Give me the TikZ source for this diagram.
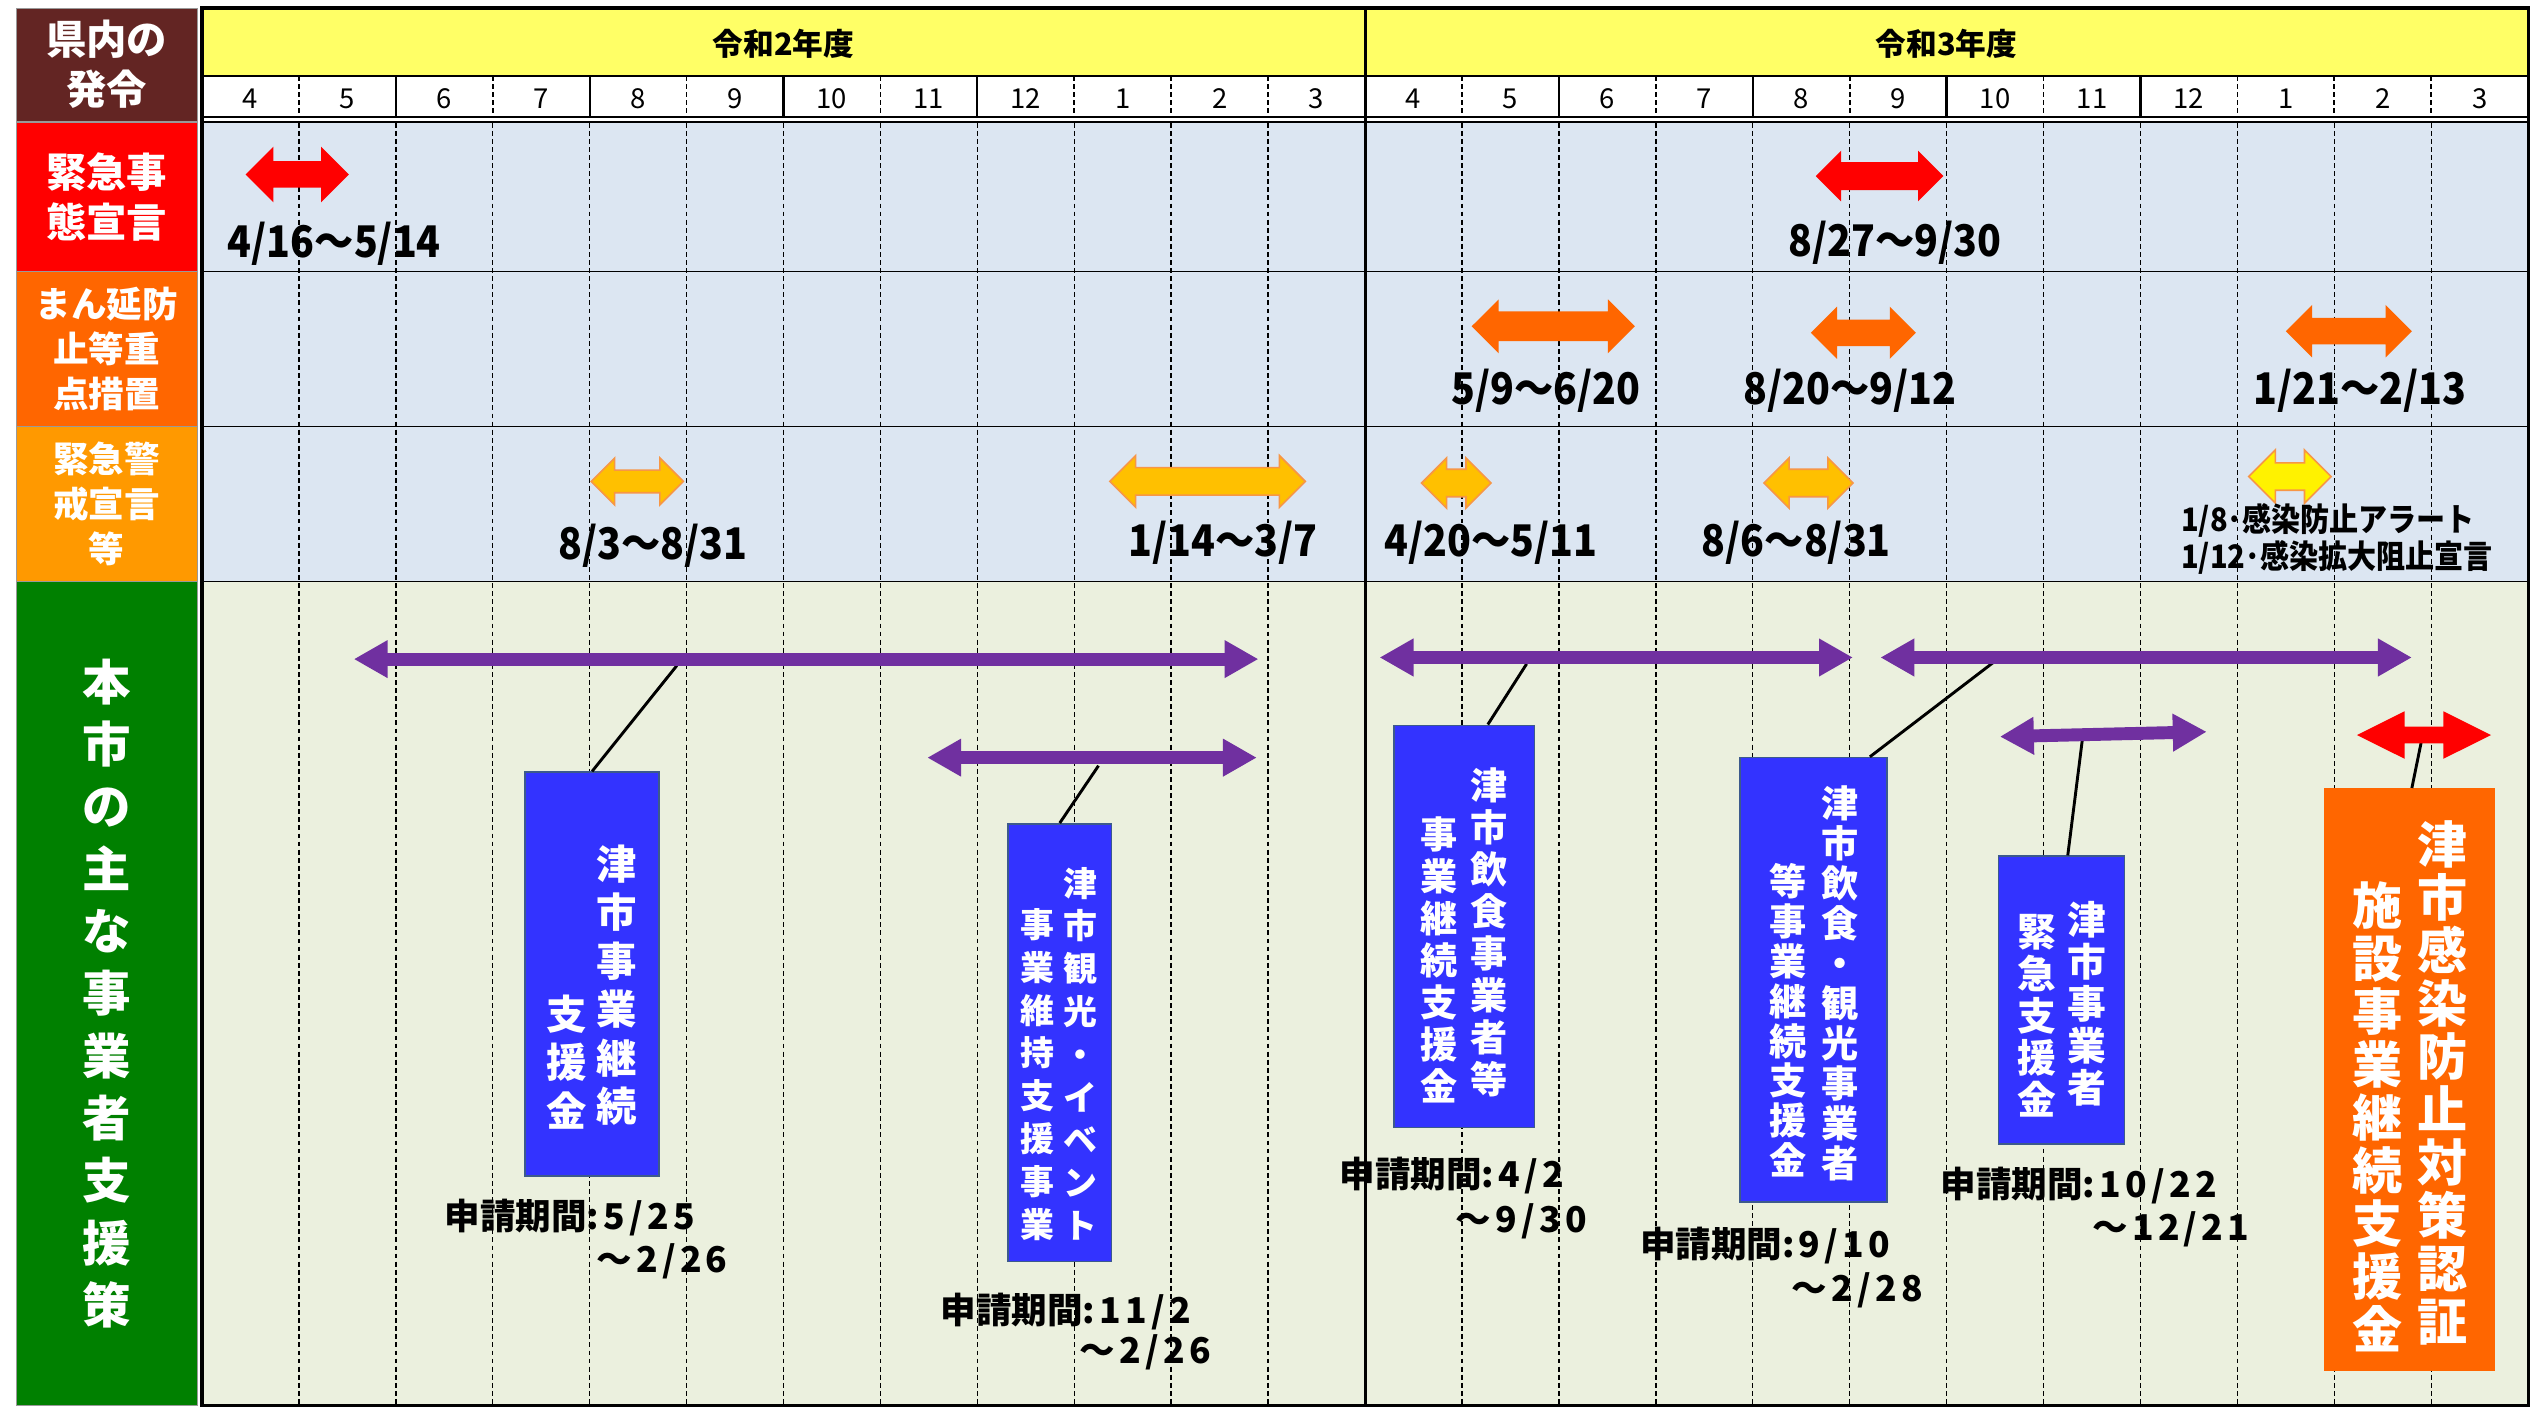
\documentclass[tikz,border=0pt]{standalone}
\usepackage{fontspec}
\setmainfont{Noto Sans CJK JP}
\newfontfamily\cond{Noto Sans CJK JP}[FakeStretch=0.9]
\usetikzlibrary{shapes.arrows,arrows.meta}
\definecolor{hdrbrown}{RGB}{99,37,35}
\definecolor{lblorange}{RGB}{255,102,0}
\definecolor{lblamber}{RGB}{255,153,0}
\definecolor{lblgreen}{RGB}{0,128,0}
\definecolor{bodyblue}{RGB}{220,230,242}
\definecolor{bodygreen}{RGB}{235,240,222}
\definecolor{hdryellow}{RGB}{255,255,102}
\definecolor{pcol}{RGB}{112,48,160}
\definecolor{boxblue}{RGB}{51,51,255}
\definecolor{boxedge}{RGB}{60,90,140}
\definecolor{amber}{RGB}{255,192,0}
\definecolor{amberedge}{RGB}{247,150,70}
\definecolor{orangearrow}{RGB}{255,102,0}
\newcommand{\fs}[2]{\fontsize{#1pt}{#2pt}\selectfont}
\newcommand{\wnum}[1]{{\addfontfeature{LetterSpace=12}#1}}
\begin{document}
\begin{tikzpicture}[x=1pt,y=-1pt,
  labcell/.style={minimum width=112pt, inner sep=0pt, text=white, align=center, draw=black!40, line width=0.6pt},
  blockarrow/.style={double arrow, inner xsep=0pt, minimum width=0pt, double arrow head indent=0pt, draw=none},
  amberarrow/.style={blockarrow, fill=amber, draw=amberedge, line width=1pt},
  datelbl/.style={font=\cond\bfseries\fs{27}{30}, inner sep=0pt},
  smalllbl/.style={font=\cond\bfseries\fs{20}{22}, inner sep=0pt, anchor=west},
  monthlbl/.style={font=\fs{17}{20}, inner sep=0pt},
  yearlbl/.style={font=\bfseries\fs{19}{22}, inner sep=0pt},
  parrow/.style={draw=pcol, line width=8pt, arrows={Triangle[length=21pt,width=22pt]-Triangle[length=21pt,width=22pt]}},
  leader/.style={draw=black, line width=1.8pt},
  bluebox/.style={fill=boxblue, draw=boxedge, line width=1pt, inner sep=0pt},
  vcol/.style={anchor=south, inner sep=0pt, align=center, text=white},
  apptext/.style={anchor=west, inner sep=0pt, font=\bfseries\fs{22}{24}},
  bodydash/.style={draw=black, line width=0.9pt, dash pattern=on 3pt off 2pt},
]
\useasboundingbox (0,0) rectangle (1568,872);
\fill[white] (0,0) rectangle (1568,872);

% backgrounds
\fill[hdryellow] (125,5) rectangle (1565,47);
\fill[white] (125,47) rectangle (1565,73);
\fill[bodyblue] (125,76) rectangle (1565,360);
\fill[bodygreen] (125,360) rectangle (1565,870);

% left label column
\node[labcell, fill=hdrbrown, minimum height=70pt, font=\bfseries\fs{25}{31}] (hdr) at (66,40) {県内の\\発令};
\node[labcell, fill=red, minimum height=92pt, font=\bfseries\fs{25}{31}] (c1) at (66,122) {緊急事\\態宣言};
\node[labcell, fill=lblorange, minimum height=96pt, font=\bfseries\fs{22}{28}] (c2) at (66,216) {まん延防\\止等重\\点措置};
\node[labcell, fill=lblamber, minimum height=96pt, font=\bfseries\fs{22}{28}] (c3) at (66,312) {緊急警\\戒宣言\\等};
\node[labcell, fill=lblgreen, minimum height=510pt, font=\bfseries\fs{30}{38.6}] (c4) at (66,615) {本\\市\\の\\主\\な\\事\\業\\者\\支\\援\\策};

% body vertical dashed lines
\foreach \x in {185,245,305,365,425,485,545,605,665,725,785,905,965,1025,1085,1145,1205,1265,1325,1385,1445,1505}
  \draw[bodydash] (\x,76) -- (\x,870);
% month row lines
\foreach \x in {245,365,485,605,965,1085,1205,1325}
  \draw[line width=1.4pt] (\x,47) -- (\x,73);
\foreach \x in {185,305,425,545,665,725,785,905,1025,1145,1265,1385,1445,1505}
  \draw[line width=1.1pt, dash pattern=on 3pt off 2pt] (\x,47) -- (\x,73);

% horizontal lines
\draw[line width=1.2pt] (125,47) -- (1565,47);
\draw[line width=1.2pt] (125,72.5) -- (1565,72.5);
\draw[line width=1.2pt] (125,75.8) -- (1565,75.8);
\foreach \y in {168,264,360}
  \draw[line width=0.9pt] (125,\y) -- (1565,\y);
\draw[line width=1.8pt] (845,5) -- (845,870);
\draw[line width=2pt] (125,5) rectangle (1565,870);

% year and month labels
\node[yearlbl] (y2) at (485,27) {令和2年度};
\node[yearlbl] (y3) at (1205,27) {令和3年度};
\foreach \m [count=\i from 0] in {4,5,6,7,8,9,10,11,12,1,2,3,4,5,6,7,8,9,10,11,12,1,2,3}
  \node[monthlbl] (mon\i) at ({155+60*\i},61) {\m};

% row 1: state of emergency
\node[blockarrow, fill=red, inner ysep=8pt, double arrow head extend=9pt, minimum height=64pt] (r1) at (184,108) {};
\node[datelbl] (d1) at (207,151) {4/16～5/14};
\node[blockarrow, fill=red, inner ysep=8.5pt, double arrow head extend=7pt, minimum height=79pt] (r2) at (1163.5,109) {};
\node[datelbl] (d2) at (1173,150) {8/27～9/30};

% row 2: priority measures
\node[blockarrow, fill=orangearrow, inner ysep=9pt, double arrow head extend=7.5pt, minimum height=101pt] (o1) at (961.5,202) {};
\node[datelbl] (d3) at (957,242) {5/9～6/20};
\node[blockarrow, fill=orangearrow, inner ysep=8pt, double arrow head extend=8pt, minimum height=65pt] (o2) at (1153.5,206) {};
\node[datelbl] (d4) at (1145,242) {8/20～9/12};
\node[blockarrow, fill=orangearrow, inner ysep=8pt, double arrow head extend=8pt, minimum height=78pt] (o3) at (1454,205) {};
\node[datelbl] (d5) at (1461,242) {1/21～2/13};

% row 3: alerts
\node[amberarrow, inner ysep=6.5pt, double arrow head extend=7.5pt, minimum height=57pt] (a1) at (394.5,298) {};
\node[datelbl] (d6) at (404,338) {8/3～8/31};
\node[amberarrow, inner ysep=8pt, double arrow head extend=7.5pt, minimum height=121pt] (a2) at (747.5,298) {};
\node[datelbl] (d7) at (757,336) {1/14～3/7};
\node[amberarrow, inner ysep=8pt, double arrow head extend=7pt, minimum height=43pt] (a3) at (901.5,299) {};
\node[datelbl] (d8) at (923,336) {4/20～5/11};
\node[amberarrow, inner ysep=8pt, double arrow head extend=7pt, minimum height=55pt] (a4) at (1119.5,299) {};
\node[datelbl] (d9) at (1112,336) {8/6～8/31};
\node[amberarrow, fill=yellow, inner ysep=8pt, double arrow head extend=8pt, minimum height=51pt] (ya) at (1417.5,295) {};
\node[smalllbl] (d10) at (1350,322) {1/8･感染防止アラート};
\node[smalllbl] (d11) at (1350,345) {1/12･感染拡大阻止宣言};

% row 4: support measures
\coordinate (p1l) at (219,408); \coordinate (p1r) at (779,408);
\coordinate (p2l) at (574,469); \coordinate (p2r) at (778,469);
\coordinate (p3l) at (854,407); \coordinate (p3r) at (1147,407);
\coordinate (p4l) at (1164,407); \coordinate (p4r) at (1493,407);
\coordinate (p5l) at (1238,456); \coordinate (p5r) at (1366,453);
\coordinate (k1) at (419,412);
\coordinate (k2) at (680,474);
\coordinate (k3) at (945,411);
\coordinate (k4) at (1234,410);
\coordinate (k5) at (1289,458);

\node[bluebox, minimum width=83pt, minimum height=250pt] (b1) at (366.5,603) {};
\node[bluebox, minimum width=64pt, minimum height=271pt] (b2) at (656,645.5) {};
\node[bluebox, minimum width=87pt, minimum height=249pt] (b3) at (906.5,573.5) {};
\node[bluebox, minimum width=91pt, minimum height=275pt] (b4) at (1122.5,606.5) {};
\node[bluebox, minimum width=78pt, minimum height=178pt] (b5) at (1276,619) {};
\node[fill=lblorange, draw=orangearrow, inner sep=0pt, minimum width=105pt, minimum height=360pt] (b6) at (1491.5,668) {};

\coordinate (k6) at (1500.5,451);
\draw[leader] (k1) -- (b1.north);
\draw[leader] (k2) -- (b2.north);
\draw[leader] (k3) -- ([xshift=14.5pt]b3.north);
\draw[leader] (k4) -- ([xshift=-11pt]b4.north east);
\draw[leader] (k5) -- ([xshift=4pt]b5.north);
\draw[leader] (k6) -- ([xshift=1.5pt]b6.north);
\node[blockarrow, fill=red, inner ysep=5pt, double arrow head extend=9.5pt, double arrow tip angle=53, minimum height=83pt] (r6) at (1500.5,455) {};

\draw[parrow] (p1l) -- (p1r);
\draw[parrow] (p2l) -- (p2r);
\draw[parrow] (p3l) -- (p3r);
\draw[parrow] (p4l) -- (p4r);
\draw[parrow] (p5l) -- (p5r);

% vertical texts in boxes
\node[vcol, font=\bfseries\fs{25}{30}] (b1r) at (382,697) {津\\市\\事\\業\\継\\続};
\node[vcol, font=\bfseries\fs{25}{30}] (b1l) at (351,699) {支\\援\\金};
\node[vcol, font=\bfseries\fs{21}{26.5}] (b2r) at (669,768) {津\\市\\観\\光\\・\\イ\\ベ\\ン\\ト};
\node[vcol, font=\bfseries\fs{21}{26.5}] (b2l) at (642,768) {事\\業\\維\\持\\支\\援\\事\\業};
\node[vcol, font=\bfseries\fs{23}{26}] (b3r) at (922,679) {津\\市\\飲\\食\\事\\業\\者\\等};
\node[vcol, font=\bfseries\fs{23}{26}] (b3l) at (891,683) {事\\業\\継\\続\\支\\援\\金};
\node[vcol, font=\bfseries\fs{23}{24.7}] (b4r) at (1139,731) {津\\市\\飲\\食\\・\\観\\光\\事\\業\\者};
\node[vcol, font=\bfseries\fs{23}{24.7}] (b4l) at (1107,729) {等\\事\\業\\継\\続\\支\\援\\金};
\node[vcol, font=\bfseries\fs{24}{26}] (b5r) at (1292,685) {津\\市\\事\\業\\者};
\node[vcol, font=\bfseries\fs{24}{26}] (b5l) at (1261,692) {緊\\急\\支\\援\\金};
\node[vcol, font=\bfseries\fs{31}{32.8}] (b6r) at (1512,833) {津\\市\\感\\染\\防\\止\\対\\策\\認\\証};
\node[vcol, font=\bfseries\fs{31}{32.8}] (b6l) at (1472,837) {施\\設\\事\\業\\継\\続\\支\\援\\金};

% application periods
\node[apptext] (t1a) at (275,754) {申請期間\wnum{:5/25}};
\node[apptext] (t1b) at (369,781) {\wnum{～2/26}};
\node[apptext] (t2a) at (582,812) {申請期間\wnum{:11/2}};
\node[apptext] (t2b) at (668,837) {\wnum{～2/26}};
\node[apptext] (t3a) at (829,728) {申請期間\wnum{:4/2}};
\node[apptext] (t3b) at (901,756) {\wnum{～9/30}};
\node[apptext] (t4a) at (1015,771) {申請期間\wnum{:9/10}};
\node[apptext] (t4b) at (1109,799) {\wnum{～2/28}};
\node[apptext] (t5a) at (1201,734) {申請期間\wnum{:10/22}};
\node[apptext] (t5b) at (1295,761) {\wnum{～12/21}};
\end{tikzpicture}
\end{document}
